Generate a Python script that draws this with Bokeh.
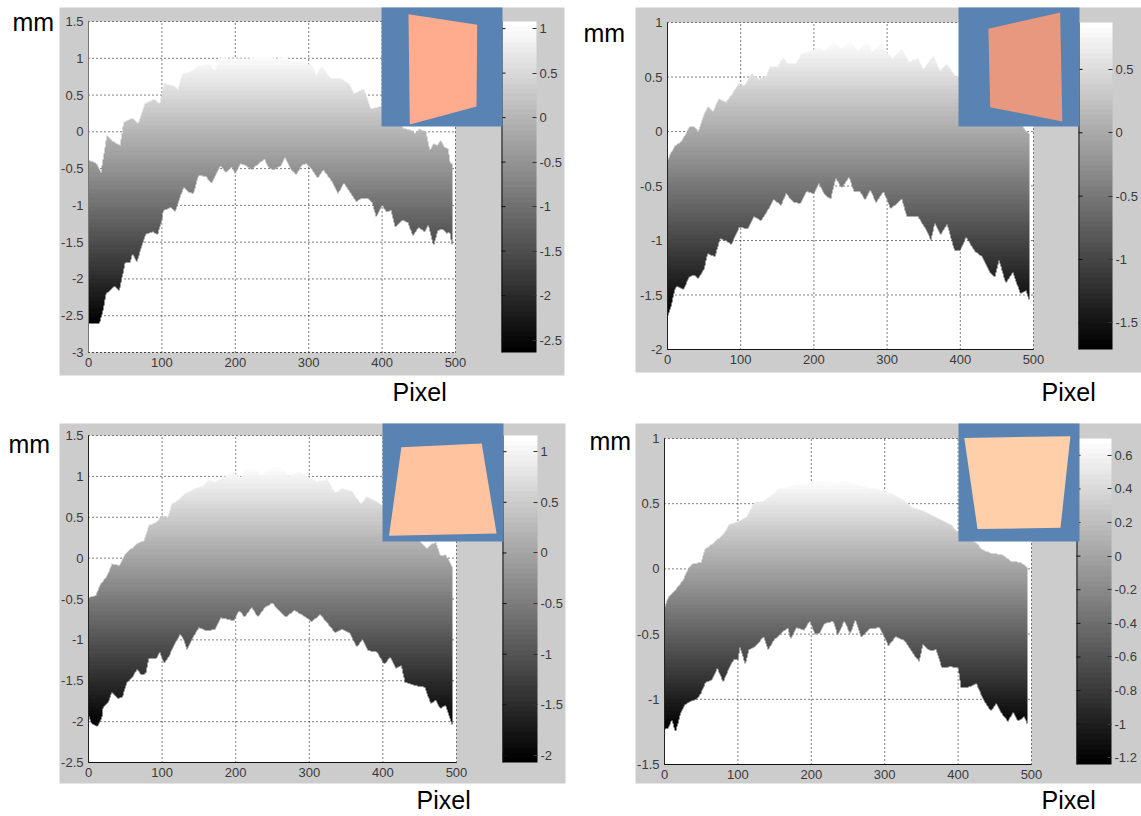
import numpy as np
from bokeh.core.properties import value
from bokeh.embed import file_html
from bokeh.resources import INLINE
from bokeh.layouts import column, row
from bokeh.plotting import figure
from bokeh.models import ColorBar, FixedTicker, LinearColorMapper, NumeralTickFormatter, Range1d

# ---------- data ----------
x_ticks = [0, 100, 200, 300, 400, 500]

a_top_x = [0,10,17,25,35,43,48,60,68,77,90,97,103,115,122,128,140,150,165,172,180,200,220,240,255,270,275,290,305,310,318,330,345,355,362,375,385,400,420,430,440,445,450,460,465,470,475,480,485,490,493,496]
a_top_y = [-.39,-.42,-.55,-.05,-.14,-.18,.13,.19,.11,.38,.45,.38,.66,.63,.58,.79,.82,.9,.92,.83,1.01,.99,1.0,1.05,.99,1.03,.95,.97,.9,.77,.9,.72,.72,.65,.52,.58,.31,.35,.15,.05,.02,-.03,.04,0,-.25,-.16,-.18,-.12,-.21,-.23,-.43,-.43]
a_bot_x = [0,10,15,20,24,30,35,42,46,50,57,60,66,72,78,88,94,100,102,112,118,125,130,137,143,150,160,168,175,180,187,195,200,207,215,222,232,240,245,252,262,268,275,283,290,297,305,312,320,332,340,348,355,365,372,380,386,392,400,406,412,418,427,435,442,450,458,463,470,476,482,488,492,496]
a_bot_y = [-2.61,-2.61,-2.6,-2.42,-2.2,-2.15,-2.1,-2.16,-1.97,-1.78,-1.77,-1.66,-1.77,-1.57,-1.39,-1.36,-1.4,-1.2,-1.07,-1.03,-1.09,-.88,-.75,-.82,-.84,-.59,-.61,-.7,-.56,-.46,-.55,-.48,-.57,-.43,-.46,-.52,-.43,-.37,-.48,-.52,-.46,-.35,-.5,-.59,-.46,-.43,-.52,-.63,-.52,-.68,-.84,-.7,-.8,-.95,-.9,-.9,-.95,-1.16,-1.0,-1.09,-1.07,-1.3,-1.2,-1.23,-1.41,-1.3,-1.36,-1.27,-1.55,-1.34,-1.32,-1.38,-1.36,-1.57]
a_y_ticks = [-3, -2.5, -2, -1.5, -1, -0.5, 0, 0.5, 1, 1.5]
a_bar_ticks = [-2.5, -2, -1.5, -1, -0.5, 0, 0.5, 1]
a_bar_range = [-2.64, 1.08]
a_card = [[.223,.791,.785,.234],[.056,.146,.832,.983]]

b_top_x = [0,3,10,18,25,30,38,42,50,55,62,70,80,88,97,105,115,125,135,140,150,158,165,175,183,195,205,215,227,237,250,260,272,280,293,300,307,320,330,342,350,363,372,382,393,400,410,430,450,470,480,486,490,495]
b_top_y = [-.27,-.22,-.13,-.1,-.02,.05,.04,0,.16,.23,.18,.3,.27,.34,.44,.42,.53,.48,.51,.6,.59,.68,.62,.62,.71,.74,.77,.74,.83,.76,.83,.74,.82,.73,.82,.73,.67,.76,.64,.67,.57,.7,.56,.62,.51,.5,.45,.35,.25,.15,.08,.04,0,-.02]
b_bot_x = [0,5,10,13,22,30,37,42,50,55,65,72,82,87,92,98,110,118,128,140,145,155,162,172,182,190,200,207,215,223,230,238,248,255,263,270,277,285,295,305,320,327,342,355,360,365,373,382,392,400,408,420,430,440,447,453,462,472,482,490,495]
b_bot_y = [-1.7,-1.6,-1.45,-1.42,-1.45,-1.33,-1.32,-1.35,-1.26,-1.12,-1.15,-.98,-1.01,-1.04,-.97,-.88,-.89,-.78,-.82,-.69,-.62,-.68,-.57,-.65,-.66,-.55,-.57,-.48,-.58,-.62,-.43,-.52,-.42,-.55,-.55,-.63,-.54,-.65,-.55,-.71,-.62,-.78,-.78,-.92,-1.0,-.84,-.95,-.85,-1.09,-1.09,-.97,-1.1,-1.15,-1.29,-1.34,-1.18,-1.39,-1.29,-1.49,-1.46,-1.56]
b_y_ticks = [-2, -1.5, -1, -0.5, 0, 0.5, 1]
b_bar_ticks = [-1.5, -1, -0.5, 0, 0.5]
b_bar_range = [-1.71, 0.87]
b_card = [[.247,.840,.858,.262],[.179,.042,.958,.838]]

c_top_x = [0,10,15,25,32,42,50,60,68,75,82,92,100,108,113,125,130,145,157,163,172,185,197,205,215,225,235,248,262,273,285,298,310,325,335,345,358,370,378,390,400,420,440,454,460,465,472,478,485,490,495]
c_top_y = [-.48,-.46,-.34,-.22,-.07,-.09,.05,.13,.19,.21,.4,.44,.52,.5,.66,.73,.78,.85,.89,.96,.93,1.0,1.06,.98,1.08,1.11,1.02,1.1,1.11,1.0,1.06,1.0,.94,.96,.8,.85,.82,.66,.75,.7,.64,.5,.3,.17,.12,.17,.19,.03,.04,-.03,-.13]
c_bot_x = [0,4,12,18,20,27,32,40,46,52,60,66,72,78,82,92,97,103,110,118,125,130,134,142,150,160,172,180,190,197,205,212,222,230,240,250,258,268,280,295,303,315,325,335,345,355,365,372,380,392,402,410,418,425,430,445,457,465,472,478,485,492,495]
c_bot_y = [-1.92,-2.02,-2.06,-1.96,-1.82,-1.76,-1.64,-1.72,-1.7,-1.53,-1.45,-1.36,-1.43,-1.41,-1.23,-1.23,-1.15,-1.29,-1.19,-1.03,-.93,-1.01,-1.12,-.97,-.85,-.89,-.87,-.73,-.75,-.77,-.64,-.72,-.6,-.72,-.6,-.55,-.64,-.72,-.64,-.72,-.78,-.69,-.8,-.91,-.87,-.92,-1.09,-.99,-1.13,-1.15,-1.3,-1.21,-1.35,-1.31,-1.52,-1.56,-1.58,-1.78,-1.74,-1.84,-1.8,-1.98,-2.06]
c_y_ticks = [-2.5, -2, -1.5, -1, -0.5, 0, 0.5, 1, 1.5]
c_bar_ticks = [-2, -1.5, -1, -0.5, 0, 0.5, 1]
c_bar_range = [-2.07, 1.16]
c_card = [[.156,.820,.943,.054],[.201,.170,.932,.952]]

d_top_x = [0,5,15,25,33,38,50,55,65,75,82,88,100,112,122,135,145,155,170,185,200,220,235,248,265,280,298,312,325,338,350,362,375,390,400,427,432,445,460,472,485,493,496]
d_top_y = [-.3,-.22,-.16,-.09,.01,.04,.05,.15,.19,.24,.28,.34,.36,.4,.51,.52,.56,.61,.63,.65,.67,.67,.66,.68,.64,.62,.6,.57,.53,.47,.45,.42,.38,.34,.28,.19,.15,.12,.11,.06,.05,.02,-.02]
d_bot_x = [0,5,10,15,22,28,38,44,50,56,65,72,80,88,95,100,103,110,115,125,135,141,150,160,168,172,180,190,198,205,212,218,230,236,245,253,260,268,280,293,305,315,327,340,347,352,362,370,378,390,400,404,413,425,435,445,452,458,468,475,482,490,495]
d_bot_y = [-1.23,-1.22,-1.16,-1.25,-1.11,-1.04,-1.01,-1,-.95,-.87,-.85,-.76,-.87,-.76,-.69,-.7,-.6,-.73,-.62,-.59,-.52,-.62,-.54,-.49,-.45,-.54,-.45,-.47,-.4,-.5,-.49,-.42,-.4,-.51,-.4,-.5,-.39,-.52,-.46,-.45,-.59,-.52,-.55,-.66,-.71,-.58,-.63,-.62,-.76,-.75,-.76,-.91,-.91,-.88,-1.01,-1.09,-1.03,-1.1,-1.17,-1.1,-1.17,-1.13,-1.2]
d_y_ticks = [-1.5, -1, -0.5, 0, 0.5, 1]
d_bar_ticks = [-1.2, -1, -0.8, -0.6, -0.4, -0.2, 0, 0.2, 0.4, 0.6]
d_bar_range = [-1.24, 0.70]
d_card = [[.048,.925,.843,.157],[.122,.108,.884,.895]]

gray64 = ["#%02x%02x%02x" % (v, v, v) for v in (round(i * 255 / 63) for i in range(64))]

PANEL_GRAY = "#cccccc"
INSET_BLUE = "#5983b2"
TICK_TEXT = "#3a3a3a"
FONT = "Liberation Sans"


def panel(cell, frame, box, inset, bar_x, data, y_ticks, bar_ticks, bar_range, card, card_color,
          mm_at, px_at, y_range, bottom_line=True, left_color="#222222"):
    cx0, cy0, cx1, cy1 = cell
    fx0, fy0, fx1, fy1 = frame
    fw, fh = fx1 - fx0, fy1 - fy0
    ymin, ymax = y_range

    # the drawing area fills the whole cell; the data scale is fixed by where the axes lie on the page
    dx = lambda px: (px - fx0) * 500 / fw
    dy = lambda py: ymin + (fy1 - py) * (ymax - ymin) / fh

    p = figure(width=cx1 - cx0, height=cy1 - cy0, min_border=0,
               x_range=Range1d(dx(cx0), dx(cx1)), y_range=Range1d(dy(cy1), dy(cy0)),
               output_backend="svg", toolbar_location=None, tools="")
    p.outline_line_color = None
    p.border_fill_color = "white"
    p.background_fill_color = "white"
    p.grid.visible = False

    def rect(x0, y0, x1, y1, color, level):
        p.quad(left=[dx(x0)], right=[dx(x1)], top=[dy(y0)], bottom=[dy(y1)],
               fill_color=color, line_color=None, level=level)

    # grey panel with the white plot area on it
    bx0, by0, bx1, by1 = box
    rect(bx0, by0, bx1, by1, PANEL_GRAY, "image")
    p.quad(left=[0], right=[500], top=[ymax], bottom=[ymin], fill_color="white", line_color=None, level="image")

    # dotted grid, under the surface
    p.segment(x0=x_ticks, x1=x_ticks, y0=[ymin] * len(x_ticks), y1=[ymax] * len(x_ticks),
              line_color="black", line_dash="1 3", line_width=1, level="underlay")
    p.segment(x0=[0] * len(y_ticks), x1=[500] * len(y_ticks), y0=y_ticks, y1=y_ticks,
              line_color="black", line_dash="1 3", line_width=1, level="underlay")

    # surface: height-coloured image, limited to the band between the two read edges
    tx, ty, lx, ly = data
    xs = (np.arange(fw) + 0.5) * 500 / fw
    ys = ymin + (np.arange(fh) + 0.5) * (ymax - ymin) / fh
    upper = np.interp(xs, tx, ty, left=np.nan, right=np.nan)
    lower = np.interp(xs, lx, ly, left=np.nan, right=np.nan)
    grid_y = np.repeat(ys[:, None], fw, axis=1).astype("float32")
    inside = (grid_y <= upper[None, :]) & (grid_y >= lower[None, :])
    surface = np.where(inside, grid_y, np.nan).astype("float32")
    mapper = LinearColorMapper(palette=gray64, low=bar_range[0], high=bar_range[1], nan_color="#00000000")
    p.image(image=[surface], x=0, y=ymin, dw=500, dh=ymax - ymin, color_mapper=mapper)

    # axes, pinned to the edges of the plot area
    p.xaxis.ticker = FixedTicker(ticks=x_ticks)
    p.yaxis.ticker = FixedTicker(ticks=y_ticks)
    p.xaxis.fixed_location = ymin
    p.yaxis.fixed_location = 0
    p.xaxis.bounds = (0, 500)
    p.yaxis.bounds = (ymin, ymax)
    for ax in (p.xaxis[0], p.yaxis[0]):
        ax.formatter = NumeralTickFormatter(format="0.[0]")
        ax.major_tick_in = 0
        ax.major_tick_out = 0
        ax.minor_tick_in = 0
        ax.minor_tick_out = 0
        ax.major_label_text_font = FONT
        ax.major_label_text_font_size = "13px"
        ax.major_label_text_color = TICK_TEXT
        ax.major_label_standoff = 5
    p.xaxis[0].axis_line_color = "#111111"
    if not bottom_line:
        p.xaxis[0].axis_line_dash = "1 3"
    p.yaxis[0].axis_line_color = left_color

    # colour bar
    bar0, bar1 = bar_x
    cb = ColorBar(color_mapper=mapper, ticker=FixedTicker(ticks=bar_ticks),
                  formatter=NumeralTickFormatter(format="0.[0]"),
                  location=(bar0 - cx0, cy1 - fy1), width=bar1 - bar0, height=fh, padding=0, margin=0,
                  major_tick_in=4, major_tick_out=0, major_tick_line_color="#333333",
                  minor_tick_line_color=None, bar_line_color=None,
                  background_fill_alpha=0, border_line_color=None, label_standoff=3,
                  major_label_text_font=FONT, major_label_text_font_size="13px",
                  major_label_text_color=TICK_TEXT)
    p.add_layout(cb, "center")
    rect(bar0, fy0, bar0 + 1, fy1, "#111111", "overlay")
    tick_py = [fy1 - (t - bar_range[0]) / (bar_range[1] - bar_range[0]) * fh for t in bar_ticks]
    p.segment(x0=[dx(bar0)] * len(tick_py), x1=[dx(bar0 + 4)] * len(tick_py),
              y0=[dy(v) for v in tick_py], y1=[dy(v) for v in tick_py],
              line_color="#111111", line_width=1, level="overlay")

    # inset with the tilted card
    ix0, iy0, ix1, iy1 = inset
    rect(ix0, iy0, ix1, iy1, INSET_BLUE, "overlay")
    p.patch(x=[dx(ix0 + u * (ix1 - ix0)) for u in card[0]],
            y=[dy(iy0 + v * (iy1 - iy0)) for v in card[1]],
            fill_color=card_color, line_color=None, level="overlay")

    # unit labels
    p.text(x=[dx(mm_at[0]), dx(px_at[0])], y=[dy(mm_at[1]), dy(px_at[1])], text=["mm", "Pixel"],
           text_font=value(FONT), text_font_size="25px", text_color="black",
           text_baseline="alphabetic", text_align="left", level="overlay")
    return p


p1 = panel((0, 0, 574, 415), (88, 21, 455, 352), (59, 7, 564, 375), (381, 7, 502, 126), (501, 536),
           (a_top_x, a_top_y, a_bot_x, a_bot_y), a_y_ticks, a_bar_ticks, a_bar_range, a_card, "#ffac8e",
           (12, 21), (392, 391), (-3, 1.5), bottom_line=False, left_color="#777777")
p2 = panel((574, 0, 1141, 415), (667, 22, 1033, 349), (635, 7, 1141, 372), (958, 7, 1079, 126), (1078, 1112),
           (b_top_x, b_top_y, b_bot_x, b_bot_y), b_y_ticks, b_bar_ticks, b_bar_range, b_card, "#e8987e",
           (583, 32), (1041, 391), (-2, 1))
p3 = panel((0, 415, 574, 816), (88, 435, 456, 762), (59, 423, 565, 783), (382, 423, 503, 541), (502, 537),
           (c_top_x, c_top_y, c_bot_x, c_bot_y), c_y_ticks, c_bar_ticks, c_bar_range, c_card, "#ffc3a0",
           (8, 443), (416, 799), (-2.5, 1.5))
p4 = panel((574, 415, 1141, 816), (664, 438, 1031, 764), (635, 423, 1141, 783), (958, 423, 1079, 541), (1076, 1111),
           (d_top_x, d_top_y, d_bot_x, d_bot_y), d_y_ticks, d_bar_ticks, d_bar_range, d_card, "#ffcfa9",
           (589, 440), (1041, 799), (-1.5, 1))

page = column(row(p1, p2, spacing=0), row(p3, p4, spacing=0), spacing=0)
open("out.html", "w").write(file_html(page, INLINE))
